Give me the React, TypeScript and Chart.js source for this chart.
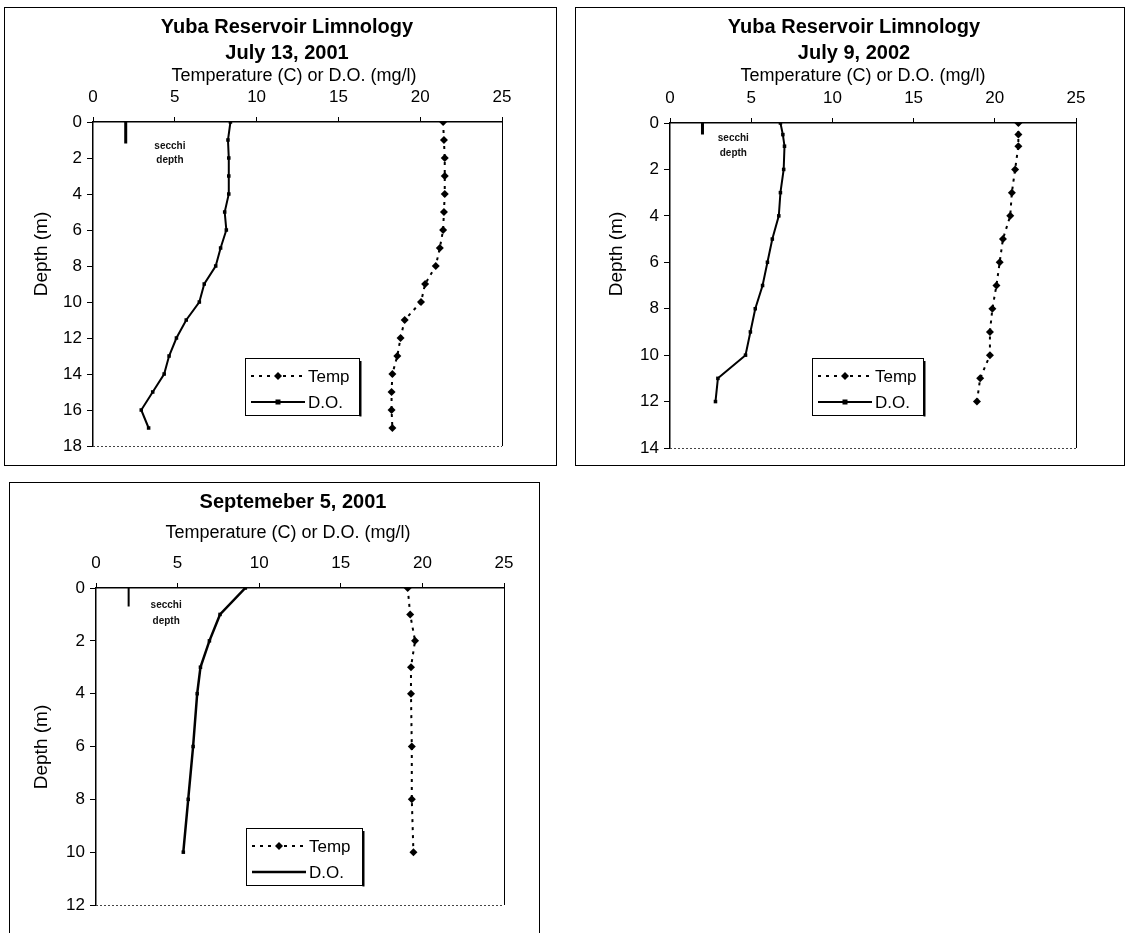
import React, { useEffect, useRef } from "react";
import { Chart, registerables } from "chart.js";

Chart.register(...registerables);

const FONT = "'Liberation Sans', Arial, Helvetica, sans-serif";

// ---------- data ----------
const TEMP_MIN = 0;
const TEMP_MAX = 25;
const TEMP_STEP = 5;
const DEPTH_STEP = 2;

// Chart 1: July 13, 2001
const title1 = ["Yuba Reservoir Limnology", "July 13, 2001"];
const depth1 = [0, 1, 2, 3, 4, 5, 6, 7, 8, 9, 10, 11, 12, 13, 14, 15, 16, 17];
const temp1 = [21.4, 21.45, 21.5, 21.5, 21.5, 21.45, 21.4, 21.2, 20.95, 20.3, 20.05, 19.05, 18.8, 18.6, 18.3, 18.25, 18.25, 18.3];
const do1 = [8.4, 8.25, 8.3, 8.3, 8.3, 8.05, 8.15, 7.8, 7.5, 6.8, 6.5, 5.7, 5.1, 4.65, 4.35, 3.65, 2.95, 3.4];
const secchi1 = { temp: 2, depth: 1.2 };
const maxDepth1 = 18;

// Chart 2: July 9, 2002
const title2 = ["Yuba Reservoir Limnology", "July 9, 2002"];
const depth2 = [0, 0.5, 1, 2, 3, 4, 5, 6, 7, 8, 9, 10, 11, 12];
const temp2 = [21.45, 21.45, 21.45, 21.25, 21.05, 20.95, 20.5, 20.3, 20.1, 19.85, 19.7, 19.7, 19.1, 18.9];
const do2 = [6.8, 6.95, 7.05, 7.0, 6.8, 6.7, 6.3, 6.0, 5.7, 5.25, 4.95, 4.65, 2.95, 2.8];
const secchi2 = { temp: 2, depth: 0.5 };
const maxDepth2 = 14;

// Chart 3: September 5, 2001
const title3 = ["Septemeber 5, 2001"];
const depth3 = [0, 1, 2, 3, 4, 6, 8, 10];
const temp3 = [19.1, 19.25, 19.55, 19.3, 19.3, 19.35, 19.35, 19.45];
const do3 = [9.15, 7.6, 6.95, 6.4, 6.2, 5.95, 5.65, 5.35];
const secchi3 = { temp: 2, depth: 0.7 };
const maxDepth3 = 12;

const xAxisTitle = "Temperature (C) or D.O. (mg/l)";
const yAxisTitle = "Depth (m)";
const seriesNames = ["Temp", "D.O."];
const secchiText = ["secchi", "depth"];

// ---------- layout (positions / styles only) ----------
type Spec = {
  key: string;
  box: { left: number; top: number; width: number; height: number };
  plot: { l: number; r: number; t: number; b: number };
  titles: string[];
  titleX: number;
  titleYs: number[];
  axisTitleX: number;
  axisTitleY: number;
  yTitleX: number;
  yTitleY: number;
  depth: number[];
  temp: number[];
  dox: number[];
  secchi: { temp: number; depth: number };
  secchiWidth: number;
  secchiLabel: { x: number; y1: number; y2: number };
  maxDepth: number;
  legend: { x: number; y: number; w: number; h: number };
  doMarker: boolean;
  doWidth: number;
};

const specs: Spec[] = [
  {
    key: "c1",
    box: { left: 4, top: 7, width: 553, height: 459 },
    plot: { l: 89, r: 498, t: 115, b: 439 },
    titles: title1,
    titleX: 283,
    titleYs: [20, 46],
    axisTitleX: 290,
    axisTitleY: 69,
    yTitleX: 38,
    yTitleY: 247,
    depth: depth1,
    temp: temp1,
    dox: do1,
    secchi: secchi1,
    secchiWidth: 3,
    secchiLabel: { x: 4.7, y1: 1.33, y2: 2.1 },
    maxDepth: maxDepth1,
    legend: { x: 241, y: 351, w: 114, h: 57 },
    doMarker: true,
    doWidth: 2,
  },
  {
    key: "c2",
    box: { left: 575, top: 7, width: 550, height: 459 },
    plot: { l: 95, r: 501, t: 116, b: 441 },
    titles: title2,
    titleX: 279,
    titleYs: [20, 46],
    axisTitleX: 288,
    axisTitleY: 69,
    yTitleX: 42,
    yTitleY: 247,
    depth: depth2,
    temp: temp2,
    dox: do2,
    secchi: secchi2,
    secchiWidth: 3,
    secchiLabel: { x: 3.9, y1: 0.65, y2: 1.3 },
    maxDepth: maxDepth2,
    legend: { x: 237, y: 351, w: 111, h: 57 },
    doMarker: true,
    doWidth: 2,
  },
  {
    key: "c3",
    box: { left: 9, top: 482, width: 531, height: 470 },
    plot: { l: 87, r: 495, t: 106, b: 423 },
    titles: title3,
    titleX: 284,
    titleYs: [20],
    axisTitleX: 279,
    axisTitleY: 51,
    yTitleX: 33,
    yTitleY: 265,
    depth: depth3,
    temp: temp3,
    dox: do3,
    secchi: secchi3,
    secchiWidth: 2,
    secchiLabel: { x: 4.3, y1: 0.67, y2: 1.24 },
    maxDepth: maxDepth3,
    legend: { x: 237, y: 346, w: 116, h: 57 },
    doMarker: false,
    doWidth: 2.5,
  },
];

function drawDiamond(ctx: CanvasRenderingContext2D, x: number, y: number, r: number) {
  ctx.beginPath();
  ctx.moveTo(x, y - r);
  ctx.lineTo(x + r, y);
  ctx.lineTo(x, y + r);
  ctx.lineTo(x - r, y);
  ctx.closePath();
  ctx.fill();
}

function makeDecor(spec: Spec) {
  return {
    id: "decor_" + spec.key,
    afterDraw(chart: any) {
      const ctx: CanvasRenderingContext2D = chart.ctx;
      const ca = chart.chartArea;
      const xs = chart.scales.x;
      const ys = chart.scales.y;
      ctx.save();
      // titles
      ctx.fillStyle = "#000";
      ctx.textAlign = "center";
      ctx.textBaseline = "middle";
      ctx.font = `bold 20px ${FONT}`;
      spec.titles.forEach((t, i) => ctx.fillText(t, spec.titleX, spec.titleYs[i]));
      ctx.font = `18px ${FONT}`;
      ctx.fillText(xAxisTitle, spec.axisTitleX, spec.axisTitleY);
      // y title
      ctx.save();
      ctx.translate(spec.yTitleX, spec.yTitleY);
      ctx.rotate(-Math.PI / 2);
      ctx.font = `19px ${FONT}`;
      ctx.fillText(yAxisTitle, 0, 0);
      ctx.restore();
      // right and bottom borders of the plot
      ctx.strokeStyle = "#000";
      ctx.lineWidth = 1;
      ctx.beginPath();
      ctx.moveTo(Math.round(ca.right) + 0.5, ca.top);
      ctx.lineTo(Math.round(ca.right) + 0.5, ca.bottom);
      ctx.stroke();
      ctx.strokeStyle = "#444";
      ctx.setLineDash([2, 2]);
      ctx.beginPath();
      ctx.moveTo(ca.left, Math.round(ca.bottom) + 0.5);
      ctx.lineTo(ca.right, Math.round(ca.bottom) + 0.5);
      ctx.stroke();
      ctx.setLineDash([]);
      // secchi label
      ctx.font = `bold 10px ${FONT}`;
      ctx.fillStyle = "#111";
      const sx = xs.getPixelForValue(spec.secchiLabel.x);
      ctx.fillText(secchiText[0], sx, ys.getPixelForValue(spec.secchiLabel.y1));
      ctx.fillText(secchiText[1], sx, ys.getPixelForValue(spec.secchiLabel.y2));
      // legend
      const L = spec.legend;
      ctx.fillStyle = "#fff";
      ctx.fillRect(L.x, L.y, L.w, L.h);
      ctx.strokeStyle = "#000";
      ctx.lineWidth = 1;
      ctx.strokeRect(L.x + 0.5, L.y + 0.5, L.w, L.h);
      ctx.lineWidth = 2;
      ctx.beginPath();
      ctx.moveTo(L.x + L.w + 1.5, L.y + 3);
      ctx.lineTo(L.x + L.w + 1.5, L.y + L.h + 1.5);
      ctx.stroke();
      const rowY = [L.y + 18, L.y + 44];
      const x0 = L.x + 6;
      const x1 = L.x + 60;
      const xm = (x0 + x1) / 2;
      ctx.textAlign = "left";
      ctx.font = `17px ${FONT}`;
      // Temp row
      ctx.strokeStyle = "#000";
      ctx.fillStyle = "#000";
      ctx.lineWidth = 2;
      ctx.setLineDash([3, 5]);
      ctx.beginPath();
      ctx.moveTo(x0, rowY[0]);
      ctx.lineTo(x1, rowY[0]);
      ctx.stroke();
      ctx.setLineDash([]);
      drawDiamond(ctx, xm, rowY[0], 4);
      ctx.fillText(seriesNames[0], x1 + 3, rowY[0] + 1);
      // D.O. row
      ctx.lineWidth = spec.doWidth;
      ctx.beginPath();
      ctx.moveTo(x0, rowY[1]);
      ctx.lineTo(x1, rowY[1]);
      ctx.stroke();
      if (spec.doMarker) ctx.fillRect(xm - 2.5, rowY[1] - 2.5, 5, 5);
      ctx.fillText(seriesNames[1], x1 + 3, rowY[1] + 1);
      ctx.restore();
    },
  };
}

function makeChart(canvas: HTMLCanvasElement, spec: Spec) {
  const W = spec.box.width;
  const H = spec.box.height;
  const p = spec.plot;
  const tickFont = { family: FONT, size: 17 };
  return new Chart(canvas, {
    type: "scatter",
    data: {
      datasets: [
        {
          label: seriesNames[0],
          data: spec.temp.map((v, i) => ({ x: v, y: spec.depth[i] })),
          showLine: true,
          borderColor: "#000",
          backgroundColor: "#000",
          borderWidth: 2,
          borderDash: [3, 5],
          pointStyle: "rectRot",
          pointRadius: 4,
          pointBorderWidth: 0,
          tension: 0,
        },
        {
          label: seriesNames[1],
          data: spec.dox.map((v, i) => ({ x: v, y: spec.depth[i] })),
          showLine: true,
          borderColor: "#000",
          backgroundColor: "#000",
          borderWidth: spec.doWidth,
          pointStyle: "rect",
          pointRadius: 2.5,
          pointBorderWidth: 0,
          tension: 0,
        },
        {
          label: "secchi",
          data: [
            { x: spec.secchi.temp, y: 0 },
            { x: spec.secchi.temp, y: spec.secchi.depth },
          ],
          showLine: true,
          borderColor: "#000",
          borderWidth: spec.secchiWidth,
          pointRadius: 0,
        },
      ],
    },
    options: {
      responsive: false,
      animation: false,
      devicePixelRatio: 1,
      layout: { padding: { left: 0, top: 0, right: W - p.r, bottom: H - p.b } },
      plugins: {
        legend: { display: false },
        tooltip: { enabled: false },
        title: { display: false },
      },
      scales: {
        x: {
          type: "linear",
          position: "top",
          min: TEMP_MIN,
          max: TEMP_MAX,
          ticks: { stepSize: TEMP_STEP, padding: 9, color: "#000", font: tickFont, maxRotation: 0 },
          grid: { drawOnChartArea: false, drawTicks: true, tickLength: 5, color: "#000", lineWidth: 1 },
          border: { color: "#000", width: 1.5 },
          afterFit: (s: any) => {
            s.height = p.t;
            s.paddingLeft = 0;
            s.paddingRight = 0;
          },
        },
        y: {
          type: "linear",
          reverse: true,
          min: 0,
          max: spec.maxDepth,
          ticks: { stepSize: DEPTH_STEP, padding: 5, color: "#000", font: tickFont },
          grid: { drawOnChartArea: false, drawTicks: true, tickLength: 6, color: "#000", lineWidth: 1 },
          border: { color: "#000", width: 1.5 },
          afterFit: (s: any) => {
            s.width = p.l;
            s.paddingTop = 0;
            s.paddingBottom = 0;
          },
        },
      },
    },
    plugins: [makeDecor(spec)],
  } as any);
}

function LimnoChart({ spec }: { spec: Spec }) {
  const ref = useRef<HTMLCanvasElement | null>(null);
  useEffect(() => {
    if (!ref.current) return;
    const c = makeChart(ref.current, spec);
    return () => c.destroy();
  }, [spec]);
  return (
    <div
      style={{
        position: "absolute",
        left: spec.box.left,
        top: spec.box.top,
        width: spec.box.width,
        height: spec.box.height,
        border: "1px solid #000",
        boxSizing: "border-box",
        background: "#fff",
      }}
    >
      <canvas
        ref={ref}
        width={spec.box.width}
        height={spec.box.height}
        style={{ position: "absolute", left: -1, top: -1, width: spec.box.width, height: spec.box.height }}
      />
    </div>
  );
}

export default function App() {
  return (
    <div
      style={{
        position: "absolute",
        left: 0,
        top: 0,
        width: 1138,
        height: 933,
        overflow: "hidden",
        background: "#fff",
      }}
    >
      {specs.map((s) => (
        <LimnoChart key={s.key} spec={s} />
      ))}
    </div>
  );
}
